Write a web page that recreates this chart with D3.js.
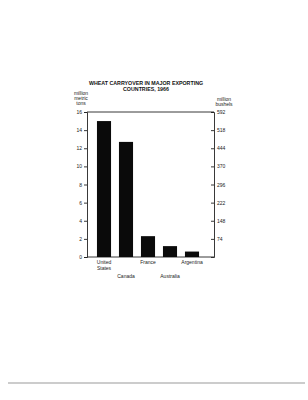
<!DOCTYPE html>
<html>
<head>
<meta charset="utf-8">
<script src="https://cdn.jsdelivr.net/npm/d3@7"></script>
<style>
  body { margin: 0; background: #fff; }
  svg { display: block; font-family: "Liberation Sans", "DejaVu Sans", sans-serif; }
  .tick text { font-size: 5px; fill: #222; }
  .small { font-size: 5px; fill: #222; }
  .title { font-size: 5.3px; font-weight: bold; fill: #111; }
</style>
</head>
<body>
<svg width="308" height="400"></svg>
<script>
// wheat carryover, 1966 (million metric tons)
var countries = ["United States", "Canada", "France", "Australia", "Argentina"];
var carryover = [15.0, 12.7, 2.3, 1.2, 0.6];
var tonTicks = [0, 2, 4, 6, 8, 10, 12, 14, 16];
var bushelTicks = [74, 148, 222, 296, 370, 444, 518, 592];

// plot box (window.top is reserved, so use other names)
var plotLeft = 87, plotRight = 214, plotTop = 112, plotBottom = 257;

var svg = d3.select("svg");

var y = d3.scaleLinear().domain([0, 16]).range([plotBottom, plotTop]);
var yb = d3.scaleLinear().domain([0, 592]).range([plotBottom, plotTop]);
var x = d3.scaleBand()
  .domain(countries)
  .range([93, 203])
  .paddingInner(0.36)
  .paddingOuter(0.18);

// frame: top and bottom lines
svg.append("line")
  .attr("x1", plotLeft).attr("x2", plotRight)
  .attr("y1", plotTop).attr("y2", plotTop)
  .attr("stroke", "#222").attr("stroke-width", 0.9);
svg.append("line")
  .attr("x1", plotLeft).attr("x2", plotRight)
  .attr("y1", plotBottom).attr("y2", plotBottom)
  .attr("stroke", "#222").attr("stroke-width", 0.9);

svg.append("g")
  .attr("transform", "translate(" + plotLeft + ",0)")
  .call(d3.axisLeft(y).tickValues(tonTicks).tickSize(3).tickPadding(2));

svg.append("g")
  .attr("transform", "translate(" + plotRight + ",0)")
  .call(d3.axisRight(yb).tickValues(bushelTicks).tickSize(-3).tickPadding(3));

svg.selectAll(".domain").attr("stroke", "#222").attr("stroke-width", 0.9);
svg.selectAll(".tick line").attr("stroke", "#222").attr("stroke-width", 0.9);
svg.selectAll(".tick text").attr("font-family", null).attr("font-size", null);

// bars
svg.selectAll("rect.bar")
  .data(countries)
  .join("rect")
  .attr("class", "bar")
  .attr("x", function (d) { return x(d); })
  .attr("width", x.bandwidth())
  .attr("y", function (d, i) { return y(carryover[i]); })
  .attr("height", function (d, i) { return y(0) - y(carryover[i]); })
  .attr("fill", "#0a0a0a");

// country labels, staggered in two rows
countries.forEach(function (c, i) {
  var cx = x(c) + x.bandwidth() / 2;
  var t = svg.append("text")
    .attr("class", "small")
    .attr("text-anchor", "middle")
    .attr("x", cx)
    .attr("y", i % 2 === 0 ? 264 : 278);
  var parts = c === "United States" ? ["United", "States"] : [c];
  parts.forEach(function (p, j) {
    t.append("tspan").attr("x", cx).attr("dy", j === 0 ? 0 : 6).text(p);
  });
});

// unit labels
var unitL = svg.append("text").attr("class", "small").attr("text-anchor", "middle");
["million", "metric", "tons"].forEach(function (p, j) {
  unitL.append("tspan").attr("x", 81).attr("y", 95 + j * 5).text(p);
});
var unitR = svg.append("text").attr("class", "small").attr("text-anchor", "middle");
["million", "bushels"].forEach(function (p, j) {
  unitR.append("tspan").attr("x", 224).attr("y", 101 + j * 5).text(p);
});

// title
svg.append("text").attr("class", "title").attr("text-anchor", "middle")
  .attr("x", 146).attr("y", 85).text("WHEAT CARRYOVER IN MAJOR EXPORTING");
svg.append("text").attr("class", "title").attr("text-anchor", "middle")
  .attr("x", 146).attr("y", 91).text("COUNTRIES, 1966");

// page scan edge line at the bottom
svg.append("line")
  .attr("x1", 8).attr("x2", 305)
  .attr("y1", 383).attr("y2", 383)
  .attr("stroke", "#999").attr("stroke-width", 1);
</script>
</body>
</html>
